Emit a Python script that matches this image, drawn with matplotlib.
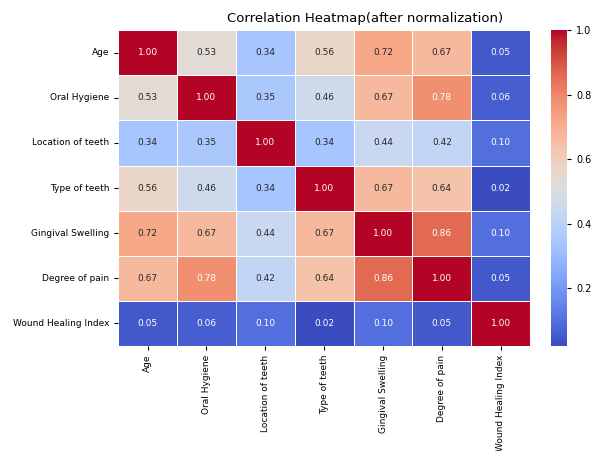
import numpy as np
import pandas as pd
import matplotlib
matplotlib.use("Agg")
import matplotlib.pyplot as plt
import seaborn as sns

# feature names
labels = ["Age", "Oral Hygiene", "Location of teeth", "Type of teeth",
          "Gingival Swelling", "Degree of pain", "Wound Healing Index"]

# correlation values
age = [1.00, 0.53, 0.34, 0.56, 0.72, 0.67, 0.05]
oral = [0.53, 1.00, 0.35, 0.46, 0.67, 0.78, 0.06]
location = [0.34, 0.35, 1.00, 0.34, 0.44, 0.42, 0.10]
typ = [0.56, 0.46, 0.34, 1.00, 0.67, 0.64, 0.02]
swelling = [0.72, 0.67, 0.44, 0.67, 1.00, 0.86, 0.10]
pain = [0.67, 0.78, 0.42, 0.64, 0.86, 1.00, 0.05]
wound = [0.05, 0.06, 0.10, 0.02, 0.10, 0.05, 1.00]

corr = pd.DataFrame([age, oral, location, typ, swelling, pain, wound],
                    index=labels, columns=labels)

fig = plt.figure(figsize=(5.97, 4.51), dpi=100)
ax = fig.add_axes([0.198, 0.233, 0.69, 0.70])
cax = fig.add_axes([0.923, 0.233, 0.027, 0.70])

sns.heatmap(corr, annot=True, fmt=".2f", cmap="coolwarm", linewidths=0.5,
            linecolor="white", ax=ax, cbar_ax=cax,
            annot_kws={"fontsize": 6.5})

ax.tick_params(axis="both", labelsize=6.5, length=3)
plt.setp(ax.get_xticklabels(), rotation=90)
plt.setp(ax.get_yticklabels(), rotation=0)
cax.tick_params(labelsize=7, length=3)
cax.set_yticks([0.2, 0.4, 0.6, 0.8, 1.0])
for s in cax.spines.values():
    s.set_visible(False)

ax.set_title("Correlation Heatmap(after normalization)", fontsize=9.5, x=0.6, pad=6)

fig.savefig("out.png", dpi=100)
